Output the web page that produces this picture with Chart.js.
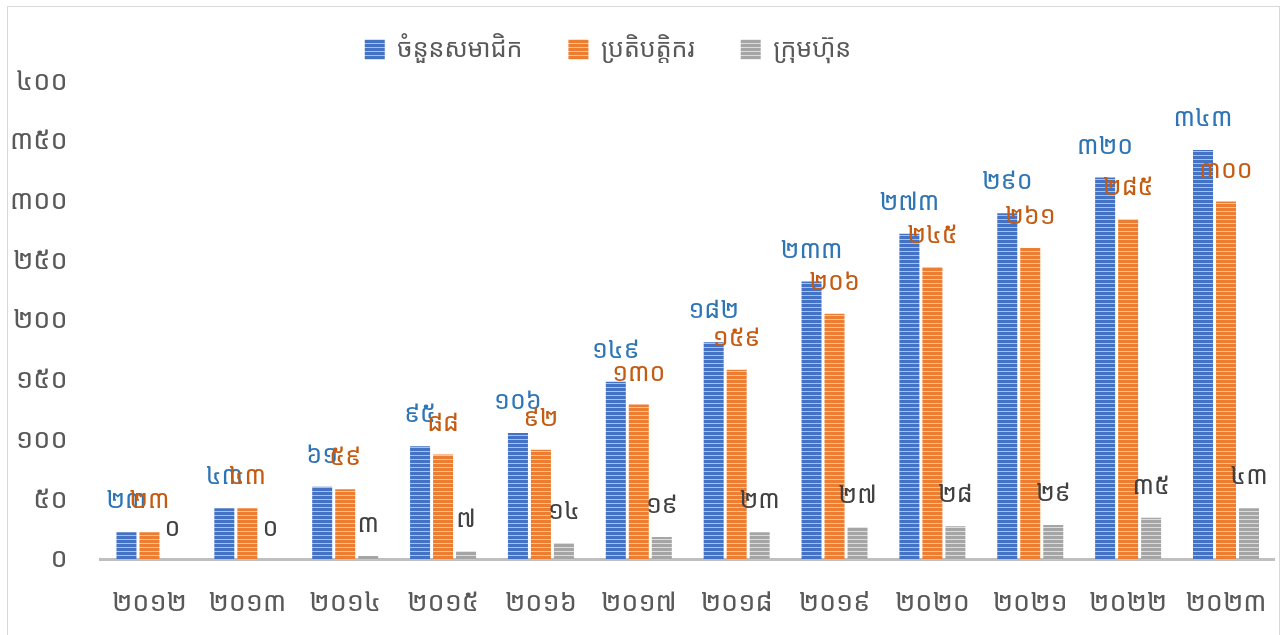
<!DOCTYPE html>
<html>
<head>
<meta charset="utf-8">
<script src="https://cdn.jsdelivr.net/npm/chart.js@4.4.0/dist/chart.umd.min.js"></script>
<style>
    body { margin: 0; background: #fff; }
    #wrap { position: relative; width: 1287px; height: 635px; }
    #frame { position: absolute; left: 7px; top: 6px; width: 1271px; height: 640px; border: 1px solid #d9d9d9; }
    canvas { position: absolute; left: 0; top: 0; }
</style>
</head>
<body>
<div id="wrap">
    <div id="frame"></div>
    <canvas id="chart" width="1287" height="635"></canvas>
</div>
<script>
const years = ['២០១២', '២០១៣', '២០១៤', '២០១៥', '២០១៦', '២០១៧', '២០១៨', '២០១៩', '២០២០', '២០២១', '២០២២', '២០២៣'];
const seriesNames = ['ចំនួនសមាជិក', 'ប្រតិបត្តិករ', 'ក្រុមហ៊ុន'];
const members = [23, 43, 61, 95, 106, 149, 182, 233, 273, 290, 320, 343];
const operators = [23, 43, 59, 88, 92, 130, 159, 206, 245, 261, 285, 300];
const companies = [0, 0, 3, 7, 14, 19, 23, 27, 28, 29, 35, 43];
const yTicks = [0, 50, 100, 150, 200, 250, 300, 350, 400];

const khmerFont = "'Noto Sans Khmer', 'Khmer OS', 'Noto Sans', 'DejaVu Sans', sans-serif";
const khDigits = ['០', '១', '២', '៣', '៤', '៥', '៦', '៧', '៨', '៩'];
function toKhmer(n) {
    return String(n).replace(/[0-9]/g, d => khDigits[d]);
}

// horizontal stripe fill like the original office chart
function stripes(color, light) {
    const c = document.createElement('canvas');
    c.width = 4;
    c.height = 4;
    const g = c.getContext('2d');
    g.fillStyle = color;
    g.fillRect(0, 0, 4, 4);
    g.fillStyle = light;
    g.fillRect(0, 3, 4, 1);
    return g.createPattern(c, 'repeat');
}

const labelColors = ['#2e75b6', '#c55a11', '#404040'];

const valueLabels = {
    id: 'valueLabels',
    afterDatasetsDraw(chart) {
        const ctx = chart.ctx;
        ctx.save();
        ctx.font = '25px ' + khmerFont;
        ctx.textAlign = 'center';
        ctx.textBaseline = 'middle';
        chart.data.datasets.forEach((ds, i) => {
            const meta = chart.getDatasetMeta(i);
            ctx.fillStyle = labelColors[i];
            meta.data.forEach((bar, j) => {
                ctx.fillText(toKhmer(ds.data[j]), bar.x, bar.y - 31);
            });
        });
        ctx.restore();
    }
};

// legend: a bit more room below it, and sitting a little left of centre
const legendSpace = {
    id: 'legendSpace',
    beforeInit(chart) {
        const fit = chart.legend.fit;
        chart.legend.fit = function () {
            fit.call(this);
            this.height += 10;
        };
    },
    afterLayout(chart) {
        chart.legend.right -= 44;
    }
};

const ctx = document.getElementById('chart').getContext('2d');
new Chart(ctx, {
    type: 'bar',
    data: {
        labels: years,
        datasets: [
            { label: seriesNames[0], data: members, backgroundColor: stripes('#4472c4', '#a9c0e8') },
            { label: seriesNames[1], data: operators, backgroundColor: stripes('#ed7d31', '#f7c4a0') },
            { label: seriesNames[2], data: companies, backgroundColor: stripes('#a5a5a5', '#dcdcdc') }
        ]
    },
    options: {
        responsive: false,
        animation: false,
        categoryPercentage: 0.705,
        barPercentage: 0.87,
        layout: {
            padding: { left: -15, right: 12, top: -9, bottom: -5 }
        },
        scales: {
            x: {
                grid: { display: false },
                border: { display: true, color: '#bfbfbf', width: 3 },
                ticks: {
                    color: '#595959',
                    padding: 20,
                    font: { size: 27, family: khmerFont }
                }
            },
            y: {
                min: 0,
                max: 400,
                afterBuildTicks: axis => { axis.ticks = yTicks.map(v => ({ value: v })); },
                grid: { display: false },
                border: { display: false },
                ticks: {
                    color: '#595959',
                    padding: 25,
                    font: { size: 27, family: khmerFont },
                    callback: v => toKhmer(v)
                }
            }
        },
        plugins: {
            legend: {
                position: 'top',
                labels: {
                    color: '#595959',
                    boxWidth: 20,
                    boxHeight: 20,
                    padding: 46,
                    font: { size: 25, family: khmerFont }
                }
            },
            tooltip: { enabled: false }
        }
    },
    plugins: [valueLabels, legendSpace]
});
</script>
</body>
</html>
